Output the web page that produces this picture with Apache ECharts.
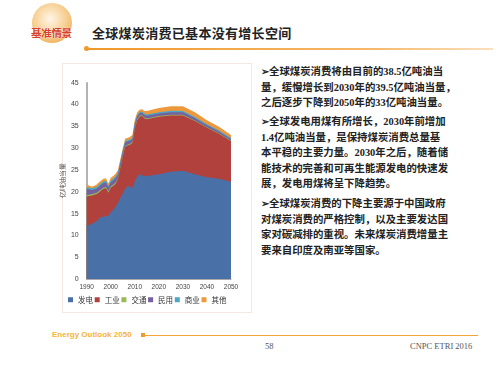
<!DOCTYPE html>
<html><head><meta charset="utf-8">
<script src="https://cdn.jsdelivr.net/npm/echarts@6/dist/echarts.min.js"></script>
<style>
html,body{margin:0;padding:0;background:#fff;}
#page{position:relative;width:500px;height:365px;overflow:hidden;background:#fff;font-family:"Noto Sans CJK SC",sans-serif;}
.abs{position:absolute;}
#chart{position:absolute;left:0;top:0;width:500px;height:365px;}
.para{position:absolute;left:261px;font-family:"Liberation Serif","Noto Sans CJK SC",serif;font-weight:bold;font-size:10.4px;color:#222;line-height:15.5px;white-space:nowrap;}
</style></head>
<body>
<div id="page">
  <div class="abs" style="left:32px;top:3px;width:40px;height:40px;border-radius:50%;background:radial-gradient(circle at 45% 40%,#fff6e8 0%,#f7cf92 50%,#ec9c38 100%);"></div>
  <div class="abs" style="left:31px;top:25px;font-size:10.5px;font-weight:bold;color:#d8432a;letter-spacing:-0.3px;white-space:nowrap;text-shadow:0 0 1px #fff,0 0 1px #fff;">基准情景</div>
  <div class="abs" style="left:92px;top:23px;font-size:13px;font-weight:bold;color:#222;white-space:nowrap;letter-spacing:0.3px;">全球煤炭消费已基本没有增长空间</div>
  <div class="abs" style="left:84px;top:46px;width:5px;height:5px;border-radius:50%;background:#f0982a;"></div>
  <div class="abs" style="left:88px;top:48px;width:405px;height:1.5px;background:linear-gradient(to right,#f0982a,#f6b86a 70%,#fbe0bd);"></div>

  <div class="abs" style="left:62px;top:63px;width:188px;height:248px;border:1px solid #f5e8e1;"></div>

  <div class="para" style="top:64px;">➢全球煤炭消费将由目前的38.5亿吨油当<br>量，缓慢增长到2030年的39.5亿吨油当量，<br>之后逐步下降到2050年的33亿吨油当量。</div>
  <div class="para" style="top:114px;">➢全球发电用煤有所增长，2030年前增加<br>1.4亿吨油当量，是保持煤炭消费总量基<br>本平稳的主要力量。2030年之后，随着储<br>能技术的完善和可再生能源发电的快速发<br>展，发电用煤将呈下降趋势。</div>
  <div class="para" style="top:196px;">➢全球煤炭消费的下降主要源于中国政府<br>对煤炭消费的严格控制，以及主要发达国<br>家对碳减排的重视。未来煤炭消费增量主<br>要来自印度及南亚等国家。</div>

  <div class="abs" style="left:52px;top:330px;font-family:'Liberation Sans',Arial,sans-serif;font-weight:bold;font-size:8px;color:#f5b43a;white-space:nowrap;">Energy Outlook 2050</div>
  <div class="abs" style="left:141px;top:333px;width:4px;height:4px;background:#f0982a;"></div>
  <div class="abs" style="left:145px;top:334.5px;width:333px;height:1.5px;background:#f3a53c;"></div>
  <div class="abs" style="left:265px;top:341px;font-family:'Liberation Serif',serif;font-size:8.5px;color:#555;">58</div>
  <div class="abs" style="left:410px;top:341px;font-family:'Liberation Serif',serif;font-size:8.5px;color:#555;white-space:nowrap;">CNPC ETRI 2016</div>

  <div id="chart"></div>
</div>
<script>
// Data
var years = [1990,1991,1992,1993,1994,1995,1996,1997,1998,1999,2000,2001,2002,2003,2004,2005,2006,2007,2008,2009,2010,2011,2012,2013,2014,2015,2020,2025,2030,2035,2040,2045,2050];
var power = [12.2,12.4,12.6,12.9,13.2,13.8,14.2,14.3,14.4,14.5,15.3,15.8,16.6,17.5,18.6,19.6,20.7,21.4,21.1,20.9,22.3,23.5,24.0,23.8,23.6,23.6,24.0,24.6,24.8,24.0,23.3,23.0,22.3];
var industry = [6.7,6.6,6.5,6.4,6.2,6.0,6.1,6.4,6.4,5.3,5.6,5.5,5.2,5.4,6.9,8.4,9.6,9.2,9.7,10.3,12.2,12.9,13.2,13.6,13.2,13.0,13.2,12.9,12.7,12.2,11.4,10.3,9.3];
var transport = [0.3,0.3,0.3,0.3,0.3,0.3,0.3,0.3,0.3,0.3,0.3,0.3,0.3,0.2,0.2,0.2,0.2,0.2,0.2,0.2,0.2,0.2,0.2,0.2,0.2,0.2,0.15,0.15,0.15,0.15,0.1,0.1,0.1];
var residential = [1.5,1.2,1.0,0.9,1.0,1.0,1.0,1.0,1.0,0.9,1.0,1.0,1.0,0.9,0.9,0.9,0.8,0.7,0.7,0.7,0.8,0.7,0.6,0.5,0.6,0.6,0.6,0.6,0.55,0.5,0.45,0.4,0.35];
var commercial = [0.4,0.4,0.4,0.4,0.4,0.4,0.4,0.4,0.4,0.4,0.4,0.4,0.4,0.4,0.4,0.4,0.4,0.3,0.3,0.3,0.3,0.3,0.3,0.3,0.3,0.3,0.3,0.3,0.3,0.3,0.25,0.25,0.25];
var other = [0.7,0.5,0.4,0.4,0.5,0.6,0.6,0.6,0.6,0.5,0.6,0.6,0.6,0.6,0.5,0.5,0.5,0.5,0.6,0.6,0.7,0.6,0.5,0.5,0.6,0.8,0.95,1.05,1.1,1.05,0.9,0.85,0.7];
var seriesNames = ['发电','工业','交通','民用','商业','其他'];
var seriesColors = ['#4a70a8','#b1413d','#99ba55','#7560a0','#4aa8c4','#ee983c'];
var xTicks = {min:1990, max:2050, step:10};
var yTicks = {min:0, max:45, step:5};
var yName = '亿吨油当量';

var allData = [power, industry, transport, residential, commercial, other];
// cumulative stacking (each layer's top = sum of layers beneath + itself)
var cumulative = [];
allData.forEach(function(arr, k){
  cumulative.push(arr.map(function(v,i){ return +( (k ? cumulative[k-1][i] : 0) + v ).toFixed(3); }));
});
function pairs(arr){ return years.map(function(y,i){ return [y, arr[i]]; }); }

// draw top layer first so lower layers cover it
var series = [];
for (var k = allData.length - 1; k >= 0; k--) {
  series.push({
    name: seriesNames[k], type:'line', symbol:'none', showSymbol:false,
    lineStyle:{width:0}, areaStyle:{opacity:1, color:seriesColors[k], origin:'start'},
    itemStyle:{color:seriesColors[k]}, z: 2 + (allData.length - k),
    data: pairs(cumulative[k])
  });
}

// one legend entry per component, laid out in a row
var legends = seriesNames.map(function(n, i){
  return {
    data:[n], left: 68 + i * 26.7, top:296, padding:0, orient:'horizontal',
    icon:'rect', itemWidth:5, itemHeight:5, itemGap:0,
    textStyle:{fontSize:7.5, color:'#333', fontFamily:'"Noto Sans CJK SC",serif'}
  };
});

var chart = echarts.init(document.getElementById('chart'), null, {renderer:'canvas'});
chart.setOption({
  backgroundColor:'transparent',
  animation:false,
  grid:{left:86.7, right:269, top:82.7, bottom:86, containLabel:false},
  legend: legends,
  xAxis:{
    type:'value', min:xTicks.min, max:xTicks.max, interval:xTicks.step,
    axisLine:{show:true, lineStyle:{color:'#aaa', width:1}},
    axisTick:{show:false}, splitLine:{show:false},
    axisLabel:{fontSize:6.5, color:'#444', margin:5, fontFamily:'"Liberation Sans",sans-serif', formatter:function(v){return String(v);}}
  },
  yAxis:{
    type:'value', min:yTicks.min, max:yTicks.max, interval:yTicks.step,
    name: yName, nameLocation:'middle', nameGap:17, nameRotate:90,
    nameTextStyle:{fontSize:6.5, color:'#444'},
    axisLine:{show:true, lineStyle:{color:'#999', width:1.5}},
    axisTick:{show:false}, splitLine:{show:false},
    axisLabel:{fontSize:7, color:'#444', margin:8, fontFamily:'"Liberation Sans",sans-serif'}
  },
  series: series
});
</script>
</body></html>
